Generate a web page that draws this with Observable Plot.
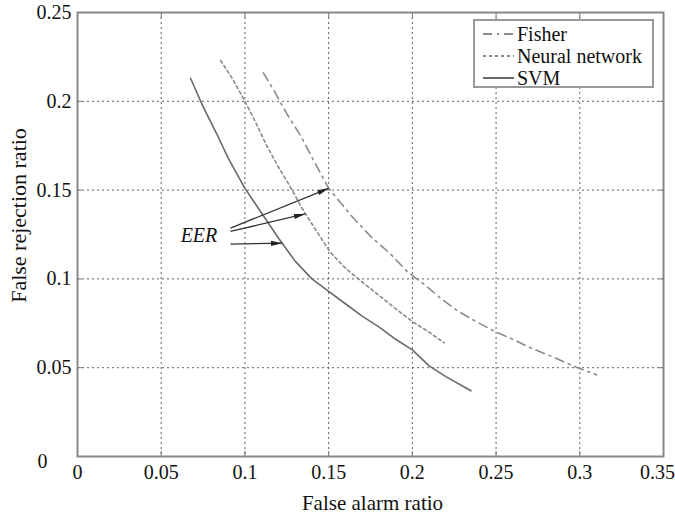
<!DOCTYPE html>
<html>
<head>
<meta charset="utf-8">
<script src="https://cdn.jsdelivr.net/npm/d3@7"></script>
<script src="https://cdn.jsdelivr.net/npm/@observablehq/plot@0.6"></script>
<style>
  body { margin: 0; background: #fff; }
  #wrap { position: relative; width: 675px; height: 516px; font-family: "Liberation Serif", "Times New Roman", serif; }
  #wrap svg text { font-family: "Liberation Serif", "Times New Roman", serif; }
  #legend { position: absolute; left: 473px; top: 19px; width: 177px; height: 65px; border: 2px solid #999; background: #fff; font-size: 20px; color: #111; }
  #legend .row { position: absolute; left: 0; height: 22px; line-height: 22px; }
  #legend svg { position: absolute; left: 8px; top: 5px; }
  #legend span { position: absolute; left: 42px; top: 0; white-space: nowrap; }
</style>
</head>
<body>
<div id="wrap"></div>
<script>
// ---- data ----
const xTicks = [0, 0.05, 0.1, 0.15, 0.2, 0.25, 0.3, 0.35];
const yTicks = [0.05, 0.1, 0.15, 0.2, 0.25];

const fisherFA = [0.111, 0.118, 0.125, 0.133, 0.142, 0.150, 0.157, 0.165, 0.175, 0.187, 0.197, 0.207, 0.217, 0.227, 0.238, 0.250, 0.260, 0.271, 0.284, 0.296, 0.310];
const fisherFR = [0.216, 0.205, 0.193, 0.181, 0.165, 0.151, 0.143, 0.134, 0.124, 0.114, 0.104, 0.097, 0.089, 0.082, 0.076, 0.070, 0.066, 0.061, 0.056, 0.051, 0.046];

const nnFA = [0.0855, 0.093, 0.100, 0.107, 0.113, 0.120, 0.127, 0.134, 0.142, 0.151, 0.160, 0.169, 0.177, 0.185, 0.193, 0.200, 0.210, 0.219];
const nnFR = [0.223, 0.212, 0.200, 0.187, 0.175, 0.163, 0.152, 0.140, 0.128, 0.115, 0.106, 0.099, 0.093, 0.087, 0.081, 0.076, 0.070, 0.064];

const svmFA = [0.0675, 0.075, 0.083, 0.090, 0.100, 0.110, 0.120, 0.130, 0.140, 0.150, 0.160, 0.170, 0.180, 0.190, 0.200, 0.210, 0.220, 0.235];
const svmFR = [0.213, 0.197, 0.182, 0.168, 0.151, 0.137, 0.123, 0.110, 0.100, 0.093, 0.086, 0.079, 0.073, 0.066, 0.060, 0.051, 0.045, 0.037];

// EER annotation arrows (start -> equal-error point)
const eerStartFA = [0.0914, 0.0914, 0.0914];
const eerStartFR = [0.1286, 0.1267, 0.1196];
const eerEndFA = [0.150, 0.136, 0.1223];
const eerEndFR = [0.151, 0.1366, 0.1201];
const eerLabel = "EER";

const seriesNames = ["Fisher", "Neural network", "SVM"];

// ---- build ----
const FONT = "'Liberation Serif', 'Times New Roman', serif";
const W = 675, H = 516, mL = 77, mR = 12, mT = 12, mB = 60;
const xDom = [0, 0.35], yDom = [0, 0.25];
const kx = (W - mL - mR) / (xDom[1] - xDom[0]);
const ky = (H - mT - mB) / (yDom[1] - yDom[0]);

const toPts = (xs, ys) => xs.map((x, i) => ({x, y: ys[i]}));
const fisher = toPts(fisherFA, fisherFR);
const nn = toPts(nnFA, nnFR);
const svm = toPts(svmFA, svmFR);

const arrows = eerStartFA.map((x1, i) => {
  const x2 = eerEndFA[i], y1 = eerStartFR[i], y2 = eerEndFR[i];
  const px = (x2 - x1) * kx, py = -(y2 - y1) * ky;
  const len = Math.hypot(px, py);
  const ang = Math.atan2(py, px) * 180 / Math.PI;
  const back = 7; // head length offset in px
  return {
    x1, y1, x2, y2,
    hx: x2 - (px / len) * back / kx,
    hy: y2 + (py / len) * back / ky,
    rot: 90 + ang
  };
});

const headSymbol = {
  draw(context, size) {
    const h = Math.sqrt(size);
    context.moveTo(0, -h);
    context.lineTo(h * 0.36, h * 0.6);
    context.lineTo(-h * 0.36, h * 0.6);
    context.closePath();
  }
};

const gridStyle = {stroke: "#444", strokeOpacity: 0.85, strokeDasharray: "2,3", strokeWidth: 1};
const innerX = xTicks.slice(1, -1);
const innerY = yTicks.slice(0, -1);
const noText = () => "";

const chart = Plot.plot({
  width: W, height: H,
  marginLeft: mL, marginRight: mR, marginTop: mT, marginBottom: mB,
  x: {domain: xDom},
  y: {domain: yDom},
  style: {fontFamily: FONT, fontSize: "20px", color: "#111", background: "#fff", overflow: "visible"},
  marks: [
    Plot.gridX(innerX, gridStyle),
    Plot.gridY(innerY, gridStyle),
    Plot.line(fisher, {x: "x", y: "y", stroke: "#8a8a8a", strokeWidth: 1.6, strokeDasharray: "9,5,2,5"}),
    Plot.line(nn, {x: "x", y: "y", stroke: "#8a8a8a", strokeWidth: 1.6, strokeDasharray: "3,3"}),
    Plot.line(svm, {x: "x", y: "y", stroke: "#6a6a6a", strokeWidth: 1.6}),
    Plot.link(arrows, {x1: "x1", y1: "y1", x2: "x2", y2: "y2", stroke: "#333", strokeWidth: 1.3}),
    Plot.dot(arrows, {x: "hx", y: "hy", rotate: "rot", symbol: headSymbol, r: 4, fill: "#222", stroke: "none"}),
    Plot.text([eerLabel], {x: () => 0.0835, y: () => 0.1245, text: d => d, textAnchor: "end", fontStyle: "italic", fontSize: 20}),
    Plot.frame({stroke: "#888", strokeWidth: 2}),
    // small inward ticks on the frame (no labels)
    Plot.axisX(innerX, {anchor: "bottom", tickSize: -5, tickFormat: noText, label: null, stroke: "#777"}),
    Plot.axisX(innerX, {anchor: "top", tickSize: -5, tickFormat: noText, label: null, stroke: "#777"}),
    Plot.axisY(innerY, {anchor: "left", tickSize: -5, tickFormat: noText, label: null, stroke: "#777"}),
    Plot.axisY(innerY, {anchor: "right", tickSize: -5, tickFormat: noText, label: null, stroke: "#777"}),
    // tick labels
    Plot.axisX(xTicks.slice(0, -1), {tickSize: 0, tickPadding: 8, label: null, tickFormat: d => String(d)}),
    Plot.axisX(xTicks.slice(-1), {tickSize: 0, tickPadding: 8, label: null, dx: -6, tickFormat: d => String(d)}),
    Plot.axisY(yTicks, {tickSize: 0, tickPadding: 6, label: null, tickFormat: d => String(d)}),
    Plot.text(["0"], {x: () => 0, y: () => 0, text: d => d, dx: -35, dy: 5, textAnchor: "middle", fontSize: 20}),
    Plot.text(["False alarm ratio"], {frameAnchor: "bottom", text: d => d, textAnchor: "middle", lineAnchor: "middle", dy: 47, dx: 2, fontSize: 21}),
    Plot.text(["False rejection ratio"], {frameAnchor: "left", text: d => d, textAnchor: "middle", lineAnchor: "middle", rotate: -90, dx: -59, dy: -19, fontSize: 22})
  ]
});

const wrap = document.getElementById("wrap");
wrap.appendChild(chart);

// legend overlay
const legend = document.createElement("div");
legend.id = "legend";
const dashes = ["9,5,2,5", "3,3", null];
const strokes = ["#8a8a8a", "#8a8a8a", "#6a6a6a"];
seriesNames.forEach((name, i) => {
  const row = document.createElement("div");
  row.className = "row";
  row.style.top = (2 + i * 22) + "px";
  row.style.width = "175px";
  row.innerHTML = `<svg width="32" height="12"><line x1="0" y1="6" x2="31" y2="6" stroke="${strokes[i]}" stroke-width="2" ${dashes[i] ? `stroke-dasharray="${dashes[i]}"` : ""}/></svg><span>${name}</span>`;
  legend.appendChild(row);
});
wrap.appendChild(legend);
</script>
</body>
</html>
